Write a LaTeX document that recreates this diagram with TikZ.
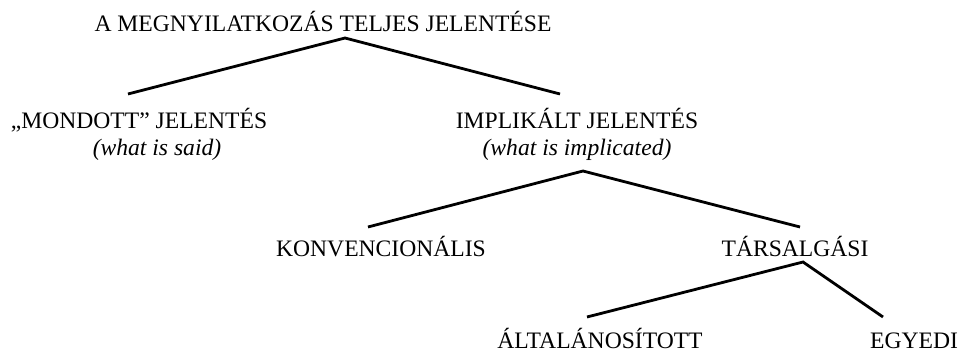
\documentclass[tikz,border=0pt]{standalone}
\usepackage{fontspec}
\setmainfont{Liberation Serif}
\usetikzlibrary{calc}

\begin{document}
\begin{tikzpicture}[x=1pt, y=-1pt,
  every node/.style={anchor=base, inner sep=0pt, font=\fontsize{23.6}{28}\selectfont},
  gloss/.style={font=\fontsize{23.6}{28}\selectfont\itshape},
  branch/.style={line width=2.8pt, black}]
\useasboundingbox (0, 0) rectangle (964, 353);

\node (root) at (323, 32) {A MEGNYILATKOZÁS TELJES JELENTÉSE};

\node (said) at (139, 128) {„MONDOTT” JELENTÉS};
\node [gloss] (saidgloss) at (157, 155) {(what is said)};
\node (impl) at (577, 128) {IMPLIKÁLT JELENTÉS};
\node [gloss] (implgloss) at (577, 155) {(what is implicated)};

\node (konv) at (381, 256) {KONVENCIONÁLIS};
\node (tars) at (795, 256) {TÁRSALGÁSI};

\node (altal) at (600, 348) {ÁLTALÁNOSÍTOTT};
\node (egyedi) at (914, 348) {EGYEDI};

\draw [branch] ($(said.base)+(-11, -34)$) -- ($(root.base)+(22, 6)$) -- ($(impl.base)+(-17, -34)$);
\draw [branch] ($(konv.base)+(-13, -29)$) -- ($(implgloss.base)+(6, 16)$) -- ($(tars.base)+(5, -29)$);
\draw [branch] ($(altal.base)+(-13, -31)$) -- ($(tars.base)+(8, 6)$) -- ($(egyedi.base)+(-31, -31)$);
\end{tikzpicture}
\end{document}
